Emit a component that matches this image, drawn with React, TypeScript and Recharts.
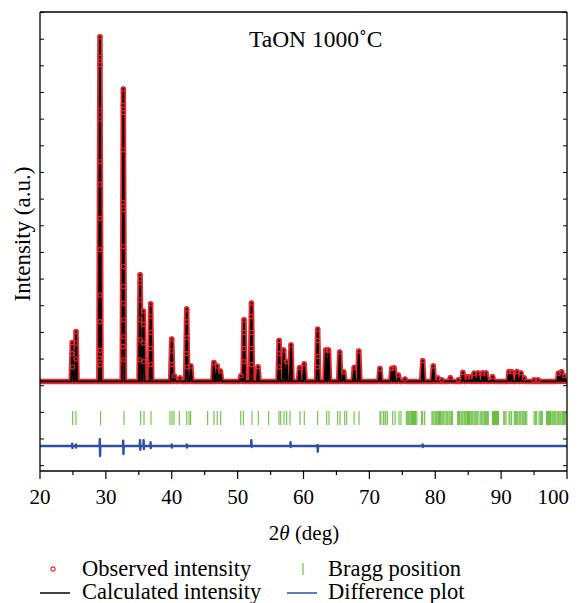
import React from 'react';
import { ComposedChart, Line, Scatter, XAxis, YAxis } from 'recharts';

const FONT = '"Liberation Serif", "Times New Roman", serif';
const BASE = 3.16;
const DIFF_BASE = 0.74;
const BRAGG_Y = 1.79;

// peak positions (2θ) and calculated heights
const peakPos = [
  24.9, 25.47, 29.1, 32.65, 35.2, 35.7, 36.8, 40.0, 40.4, 41.25, 42.27, 42.9, 46.4, 46.9, 47.4,
  50.5, 50.97, 52.1, 53.1, 56.3, 57.0, 57.45, 58.1, 59.4, 60.1, 62.15, 63.4, 63.8, 65.5, 66.1,
  67.7, 68.4, 71.6, 73.4, 73.75, 74.4, 75.4, 78.1, 79.7, 80.4, 81.0, 82.3, 83.5, 84.2, 84.9,
  85.3, 85.9, 86.5, 87.2, 87.7, 88.7, 91.2, 91.6, 92.4, 93.0, 93.5, 95.0, 95.6, 98.7, 99.2, 99.6,
];
const peakCalc = [
  4.62, 5.03, 16.09, 14.13, 7.16, 5.8, 6.07, 4.75, 3.37, 3.29, 5.88, 3.74, 3.87, 3.74, 3.55,
  3.37, 5.47, 6.1, 3.71, 4.7, 4.34, 3.9, 4.53, 3.68, 3.82, 5.12, 4.34, 4.34, 4.26, 3.52,
  3.69, 4.3, 3.65, 3.65, 3.67, 3.4, 3.25, 3.94, 3.74, 3.29, 3.22, 3.3, 3.22, 3.5, 3.33,
  3.34, 3.47, 3.48, 3.48, 3.48, 3.34, 3.53, 3.52, 3.53, 3.48, 3.29, 3.22, 3.22, 3.47, 3.52, 3.37,
];

// observed points read along the flanks of the stronger peaks
const obsX = [
  29.08, 29.12, 29.08, 29.12, 29.1, 29.08, 29.12, 29.08, 29.12, 29.08, 29.12, 29.06, 29.14,
  32.63, 32.67, 32.65, 32.63, 32.67, 32.63, 32.67, 32.63, 32.67, 32.63, 32.67, 32.61, 32.69,
  35.18, 35.22, 35.18, 35.22, 35.16, 35.72, 35.68, 35.74, 36.78, 36.82, 36.78, 36.84,
  42.25, 42.29, 42.25, 42.3, 52.08, 52.12, 52.08, 52.14, 50.95, 50.99, 50.95,
  39.98, 40.02, 62.13, 62.17, 62.13, 25.45, 25.49, 24.88, 24.92, 56.28, 56.32,
];
const obsY = [
  15.32, 15.05, 13.34, 13.0, 11.4, 10.56, 9.28, 8.1, 6.4, 5.4, 4.33, 4.04, 3.78,
  13.52, 13.25, 11.85, 9.87, 9.6, 8.22, 7.47, 6.72, 6.09, 5.47, 4.84, 4.47, 3.97,
  6.86, 6.22, 5.47, 4.72, 3.97, 5.3, 4.6, 3.9, 5.6, 5.0, 4.4, 3.8,
  5.4, 4.8, 4.2, 3.7, 5.6, 5.0, 4.4, 3.8, 5.0, 4.4, 3.9,
  4.3, 3.8, 4.7, 4.1, 3.7, 4.6, 4.0, 4.2, 3.7, 4.2, 3.7,
];

const braggPos = [
  24.96, 25.46, 29.2, 32.75, 35.28, 35.79, 36.85, 39.73, 40.04, 40.34, 41.15, 42.27, 42.62, 42.87,
  45.45, 46.41, 46.91, 47.43, 50.47, 50.87, 52.18, 53.14, 54.71, 56.28, 56.54, 57.04, 57.45, 57.95,
  59.47, 60.12, 62.15, 63.52, 63.87, 65.19, 65.54, 66.25, 66.56, 67.67, 68.43, 71.61, 71.76, 72.12,
  72.22, 72.48, 72.72, 73.54, 73.9, 74.5, 74.8, 75.6, 75.75, 75.9, 76.05, 76.2, 76.4, 76.55, 76.7,
  76.85, 77.0, 77.2, 77.9, 78.1, 78.4, 79.5, 79.65, 79.8, 80.0, 80.15, 80.3, 80.5, 80.65, 80.8,
  81.0, 81.15, 81.3, 81.5, 81.75, 81.9, 82.1, 82.25, 82.45, 82.6, 83.4, 83.55, 83.7, 83.9, 84.05,
  84.2, 84.4, 84.55, 84.7, 84.9, 85.05, 85.2, 85.4, 85.55, 85.7, 85.9, 86.05, 86.2, 86.35, 86.5,
  86.8, 86.95, 87.1, 87.25, 87.45, 87.6, 87.75, 87.9, 88.05, 88.7, 88.85, 89.0, 89.15, 89.3, 89.45,
  89.6, 90.4, 90.55, 90.75, 91.2, 91.35, 91.6, 92.0, 92.15, 92.3, 92.45, 92.7, 92.85, 93.0, 93.2,
  93.35, 93.5, 93.7, 93.9, 95.0, 95.2, 95.4, 95.75, 95.95, 96.1, 96.25, 96.9, 97.05, 97.2, 97.35,
  97.5, 97.7, 97.85, 98.0, 98.15, 98.3, 98.5, 98.65, 98.8, 98.95, 99.1, 99.3, 99.45, 99.6, 99.75,
];

// difference plot spikes: position, upper and lower excursion
const diffPos = [24.9, 25.45, 29.1, 32.65, 35.2, 35.75, 36.8, 40.0, 42.3, 52.1, 58.05, 62.15, 78.1];
const diffUp = [0.82, 0.8, 0.99, 0.94, 0.96, 0.96, 0.88, 0.8, 0.8, 0.96, 0.88, 0.78, 0.8];
const diffDown = [0.66, 0.68, 0.36, 0.44, 0.6, 0.62, 0.66, 0.68, 0.68, 0.7, 0.7, 0.52, 0.7];

const xTicks = [20, 25, 30, 35, 40, 45, 50, 55, 60, 65, 70, 75, 80, 85, 90, 95, 100];
const topTicks = [25, 30, 35, 40, 45, 50, 55, 60, 65, 70, 75, 80, 85, 90, 95];
const yTicks = [0, 1, 2, 3, 4, 5, 6, 7, 8, 9, 10, 11, 12, 13, 14, 15, 16, 17];

const calcData: { x: number; y: number }[] = [{ x: 20, y: BASE }];
peakPos.forEach((p, i) => {
  calcData.push({ x: p - 0.17, y: BASE }, { x: p, y: peakCalc[i] }, { x: p + 0.17, y: BASE });
});
calcData.push({ x: 100, y: BASE });

const obsData = [
  ...peakPos.map((p, i) => ({ x: p, y: peakCalc[i] })),
  ...obsX.map((x, i) => ({ x, y: obsY[i] })),
];

const braggData = braggPos.map((x) => ({ x, y: BRAGG_Y }));

const diffData: { x: number; y: number }[] = [{ x: 20, y: DIFF_BASE }];
diffPos.forEach((p, i) => {
  diffData.push(
    { x: p - 0.06, y: DIFF_BASE },
    { x: p - 0.02, y: diffUp[i] },
    { x: p + 0.02, y: diffDown[i] },
    { x: p + 0.06, y: DIFF_BASE },
  );
});
diffData.push({ x: 100, y: DIFF_BASE });

const RED = '#e8262c';
const GREEN = '#6cbf45';
const BLUE = '#2e4fa3';

const BraggTick = (props: any) => (
  <line x1={props.cx} x2={props.cx} y1={props.cy - 7} y2={props.cy + 7} stroke={GREEN} strokeWidth={1.1} />
);

const ObsDot = (props: any) => (
  <circle cx={props.cx} cy={props.cy} r={2.1} fill="none" stroke={RED} strokeWidth={1.1} />
);

const NoLabel = () => <g />;

const BottomTick = (props: any) => {
  const { x, y, payload } = props;
  const major = payload.value % 10 === 0;
  const last = payload.value === 100;
  return (
    <g>
      <line x1={x} x2={x} y1={y} y2={y + (major ? 8 : 4)} stroke="#000" strokeWidth={1.2} />
      {major && (
        <text
          x={last ? x + 2 : x}
          y={y + 33}
          textAnchor={last ? 'end' : 'middle'}
          fontFamily={FONT}
          fontSize={21}
          fill="#000"
        >
          {payload.value}
        </text>
      )}
    </g>
  );
};

const frameLine = { stroke: '#000', strokeWidth: 1.3 };
const innerTick = { stroke: '#000', strokeWidth: 1 };

const App = () => (
  <div style={{ position: 'absolute', left: 0, top: 0, width: 583, height: 603, background: '#fff' }}>
    <ComposedChart width={583} height={603} margin={{ top: 12, right: 16, bottom: 102, left: 40 }}>
      <XAxis
        dataKey="x"
        type="number"
        domain={[20, 100]}
        ticks={xTicks}
        interval={0}
        allowDataOverflow
        height={30}
        tickSize={0}
        tickMargin={0}
        tickLine={false}
        tick={BottomTick}
        axisLine={frameLine}
      />
      <XAxis
        xAxisId="top"
        orientation="top"
        mirror
        type="number"
        domain={[20, 100]}
        ticks={topTicks}
        interval={0}
        allowDataOverflow
        tick={NoLabel}
        tickSize={4}
        tickLine={innerTick}
        axisLine={frameLine}
      />
      <YAxis
        type="number"
        domain={[-0.2, 17.02]}
        ticks={yTicks}
        interval={0}
        allowDataOverflow
        mirror
        tick={NoLabel}
        tickSize={4}
        tickLine={innerTick}
        axisLine={frameLine}
      />
      <YAxis
        yAxisId="right"
        orientation="right"
        type="number"
        domain={[-0.2, 17.02]}
        ticks={yTicks}
        interval={0}
        allowDataOverflow
        mirror
        tick={NoLabel}
        tickSize={4}
        tickLine={innerTick}
        axisLine={frameLine}
      />
      <Line
        data={calcData}
        dataKey="y"
        type="linear"
        stroke={RED}
        strokeWidth={5.5}
        strokeLinejoin="round"
        dot={false}
        isAnimationActive={false}
      />
      <Scatter data={obsData} dataKey="y" shape={ObsDot} isAnimationActive={false} />
      <Line
        data={calcData}
        dataKey="y"
        type="linear"
        stroke="#000"
        strokeWidth={1.8}
        strokeLinejoin="round"
        dot={false}
        isAnimationActive={false}
      />
      <Scatter data={braggData} dataKey="y" shape={BraggTick} isAnimationActive={false} />
      <Line
        data={diffData}
        dataKey="y"
        type="linear"
        stroke={BLUE}
        strokeWidth={2.4}
        strokeLinejoin="round"
        dot={false}
        isAnimationActive={false}
      />
    </ComposedChart>
    <svg
      width={583}
      height={603}
      style={{ position: 'absolute', left: 0, top: 0, pointerEvents: 'none' }}
      fontFamily={FONT}
    >
      <text x={249} y={47} fontSize={23.5}>TaON 1000˚C</text>
      <text x={22} y={234} fontSize={23} textAnchor="middle" dominantBaseline="central" transform="rotate(-90 22 234)">
        Intensity (a.u.)
      </text>
      <text x={304} y={540} fontSize={21} textAnchor="middle">
        2<tspan fontStyle="italic">θ</tspan> (deg)
      </text>
      <circle cx={53} cy={569} r={2.1} fill="none" stroke={RED} strokeWidth={1.1} />
      <text x={82} y={576} fontSize={22.5}>Observed intensity</text>
      <line x1={40} x2={70} y1={593} y2={593} stroke="#000" strokeWidth={1.5} />
      <text x={82} y={599} fontSize={22.5}>Calculated intensity</text>
      <line x1={303} x2={303} y1={563} y2={575} stroke={GREEN} strokeWidth={1.2} />
      <text x={328} y={576} fontSize={22.5}>Bragg position</text>
      <line x1={287} x2={317} y1={593} y2={593} stroke={BLUE} strokeWidth={1.5} />
      <text x={328} y={599} fontSize={22.5}>Difference plot</text>
    </svg>
  </div>
);

export default App;
